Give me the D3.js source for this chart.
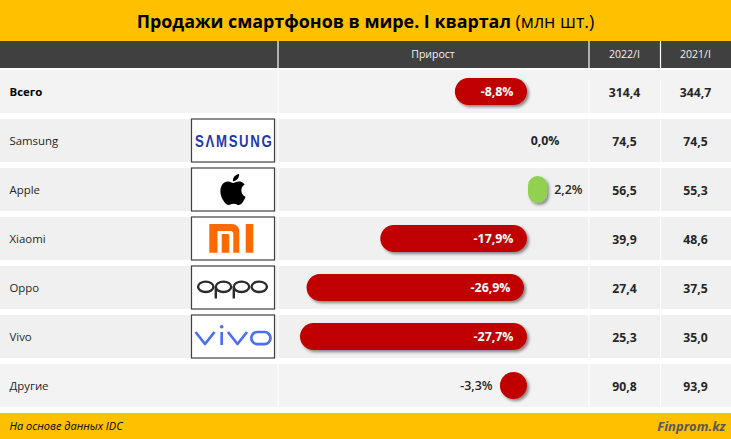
<!DOCTYPE html>
<html>
<head>
<meta charset="utf-8">
<script src="https://cdnjs.cloudflare.com/ajax/libs/d3/7.8.5/d3.min.js"></script>
<style>
  html, body { margin: 0; padding: 0; background: #fff; }
  svg { display: block; }
  text { font-family: "Open Sans", "Noto Sans", sans-serif; }
</style>
</head>
<body>
<div id="chart"></div>
<script>
// Data
var categories = ["Всего", "Samsung", "Apple", "Xiaomi", "Oppo", "Vivo", "Другие"];
var growth = [-8.8, 0.0, 2.2, -17.9, -26.9, -27.7, -3.3];
var sales2022 = [314.4, 74.5, 56.5, 39.9, 27.4, 25.3, 90.8];
var sales2021 = [344.7, 74.5, 55.3, 48.6, 37.5, 35.0, 93.9];
var columnLabels = ["Прирост", "2022/I", "2021/I"];

var svgWidth = 731;
var svgHeight = 439;
var yellow = "#FFC000";
var dark = "#404040";
var textColor = "#262626";

var svg = d3.select("#chart").append("svg")
  .attr("width", svgWidth)
  .attr("height", svgHeight);

var shadow = svg.append("defs").append("filter")
  .attr("id", "barShadow")
  .attr("x", "-20%").attr("y", "-30%")
  .attr("width", "150%").attr("height", "170%");
shadow.append("feDropShadow")
  .attr("dx", 2).attr("dy", 2)
  .attr("stdDeviation", 1.6)
  .attr("flood-color", "#000")
  .attr("flood-opacity", 0.45);

// comma decimals and a plain hyphen, like the original
function comma(v) {
  return v.toFixed(1).replace(".", ",");
}

var y = d3.scaleBand()
  .domain(categories)
  .range([70, 407])
  .paddingInner(6 / 49)
  .paddingOuter(0);

var x = d3.scaleLinear()
  .domain([-27.7, 0])
  .range([300, 527]);

// title band
svg.append("rect").attr("width", svgWidth).attr("height", 41).attr("fill", yellow);
var title = svg.append("text")
  .attr("x", 365.5).attr("y", 28)
  .attr("text-anchor", "middle")
  .style("font-size", "17.85px")
  .style("fill", "#000");
title.append("tspan").style("font-weight", 700).text("Продажи смартфонов в мире. I квартал ");
title.append("tspan").text("(млн шт.)");

// header
svg.append("rect").attr("y", 41).attr("width", svgWidth).attr("height", 27).attr("fill", dark);
var columnX = [433, 624.5, 695.5];
svg.selectAll(".column-label")
  .data(columnLabels)
  .enter().append("text")
  .attr("class", "column-label")
  .attr("x", (d, i) => columnX[i])
  .attr("y", 58)
  .attr("text-anchor", "middle")
  .style("font-size", "10.5px")
  .style("fill", "#F2F2F2")
  .text(d => d);

// rows
var rows = svg.selectAll(".row")
  .data(categories)
  .enter().append("g")
  .attr("class", "row")
  .attr("transform", d => `translate(0, ${y(d)})`);

rows.append("rect")
  .attr("width", svgWidth)
  .attr("height", y.bandwidth())
  .attr("fill", (d, i) => i === 0 || i === 6 ? "#F3F3F3" : "#F0F0F0");

rows.append("text")
  .attr("x", 9.5)
  .attr("y", y.bandwidth() / 2 + 4)
  .style("font-size", "11.4px")
  .style("font-weight", (d, i) => i === 0 ? 700 : 400)
  .style("fill", (d, i) => i === 0 ? "#000" : textColor)
  .text(d => d);

// column dividers
[278, 589, 660.5].forEach(function (sepX) {
  svg.append("line")
    .attr("x1", sepX).attr("x2", sepX)
    .attr("y1", 41).attr("y2", 413)
    .attr("stroke", "#fff")
    .attr("stroke-width", 1.2);
});
// the total row has no divider on its top part
svg.append("rect").attr("x", 585).attr("y", 70).attr("width", 80).attr("height", 10).attr("fill", "#F3F3F3");

// growth bars
var barHeight = 27;
var oppoInset = 3; // Oppo bar stops a little short in the original
var rowsData = categories.map((name, i) => ({ name: name, value: growth[i] }));

function barLeft(d) {
  return d.value < 0 ? x(d.value) : x(0) + 1;
}
function barRight(d) {
  if (d.value > 0) return x(d.value) + 2;
  return d.name === "Oppo" ? x(0) - oppoInset : x(0);
}

svg.selectAll(".bar")
  .data(rowsData.filter(d => d.value !== 0))
  .enter().append("rect")
  .attr("class", "bar")
  .attr("x", barLeft)
  .attr("y", d => y(d.name) + (y.bandwidth() - barHeight) / 2)
  .attr("width", d => barRight(d) - barLeft(d))
  .attr("height", barHeight)
  .attr("rx", d => Math.min(barRight(d) - barLeft(d), barHeight) / 2)
  .attr("fill", d => d.value < 0 ? "#C00000" : "#92D050")
  .style("filter", "url(#barShadow)");

// growth labels: white inside long bars, dark next to short ones
svg.selectAll(".growth-label")
  .data(rowsData)
  .enter().append("text")
  .attr("class", "growth-label")
  .attr("y", d => y(d.name) + y.bandwidth() / 2 + 4.5)
  .attr("x", function (d) {
    if (d.value === 0) return 559.5;
    if (d.value > 0) return 582.5;
    if (d.value > -5) return x(d.value) - 7.5;
    return d.name === "Oppo" ? 510.5 : 513.5;
  })
  .attr("text-anchor", "end")
  .style("font-size", "12.4px")
  .style("font-weight", d => d.value < -5 || d.value === 0 ? 700 : 600)
  .style("fill", d => d.value < -5 ? "#fff" : textColor)
  .text(d => comma(d.value) + "%");

// value columns
[sales2022, sales2021].forEach(function (values, k) {
  svg.selectAll(".value-" + k)
    .data(values)
    .enter().append("text")
    .attr("class", "value-" + k)
    .attr("x", columnX[k + 1])
    .attr("y", (d, i) => y(categories[i]) + y.bandwidth() / 2 + 5)
    .attr("text-anchor", "middle")
    .style("font-size", "12.2px")
    .style("font-weight", 700)
    .style("fill", textColor)
    .text(d => comma(d));
});

// logos
var logoX = 191.5, logoW = 83;
function logoBox(name) {
  var g = svg.append("g").attr("transform", `translate(${logoX}, ${y(name)})`);
  g.append("rect")
    .attr("width", logoW).attr("height", y.bandwidth())
    .attr("fill", "#fff")
    .attr("stroke", dark)
    .attr("stroke-width", 1.2);
  return g;
}

// squeezed glyphs with open spacing, the wordmark is not a stock font
logoBox("Samsung").append("text")
  .attr("transform", "translate(3.5, 28) scale(0.8, 1)")
  .attr("textLength", 96)
  .attr("lengthAdjust", "spacing")
  .style("font-family", "'Liberation Sans', sans-serif")
  .style("font-size", "16.5px")
  .style("font-weight", 700)
  .style("fill", "#1F3AA8")
  .text("SΛMSUNG");

logoBox("Apple").append("path")
  .attr("transform", "translate(41.5, 21.5) scale(1.55) translate(-12, -12)")
  .attr("fill", "#000")
  .attr("d", "M18.71 19.5c-.83 1.24-1.71 2.45-3.05 2.47-1.34.03-1.77-.79-3.29-.79-1.53 0-2 .77-3.27.82-1.31.05-2.3-1.32-3.14-2.53C4.25 17 2.94 12.45 4.7 9.39c.87-1.52 2.43-2.48 4.12-2.51 1.28-.02 2.5.87 3.29.87.78 0 2.26-1.07 3.81-.91.65.03 2.47.26 3.64 1.98-.09.06-2.17 1.28-2.15 3.81.03 3.02 2.65 4.03 2.68 4.04-.03.07-.42 1.44-1.38 2.83M13 3.5c.73-.83 1.94-1.46 2.94-1.5.13 1.17-.34 2.35-1.04 3.19-.69.85-1.83 1.51-2.95 1.42-.15-1.15.41-2.35 1.05-3.11z");

var mi = logoBox("Xiaomi");
mi.append("path")
  .attr("fill", "#FF6900")
  .attr("d", "M17.8 7H39.8Q47.8 7 47.8 15V35.7H41.8V17Q41.8 14 38.8 14H26V35.7H17.8Z M30.2 17H36.3Q37.8 17 37.8 18.5V35.7H30.2Z M54.2 7H61.8V35.7H54.2Z");

var oppo = logoBox("Oppo");
var oppoRings = [14.25, 32, 50, 67.75];
oppo.selectAll("ellipse")
  .data(oppoRings)
  .enter().append("ellipse")
  .attr("cx", d => d)
  .attr("cy", 20.8)
  .attr("rx", 7.7)
  .attr("ry", 5.2)
  .attr("fill", "none")
  .attr("stroke", "#2b2b2b")
  .attr("stroke-width", 2.4);
oppo.append("path")
  .attr("d", "M24.3 21V32.5M42.3 21V32.5")
  .attr("stroke", "#2b2b2b")
  .attr("stroke-width", 2.4);

var vivo = logoBox("Vivo");
vivo.append("path")
  .attr("d", "M4 17L13.5 29L23 17M30.2 17V30M36.5 17L46 29L55.5 17")
  .attr("fill", "none")
  .attr("stroke", "#4B6EF5")
  .attr("stroke-width", 2.7)
  .attr("stroke-linejoin", "round");
vivo.append("rect")
  .attr("x", 59.8).attr("y", 17).attr("width", 19.2).attr("height", 12.2)
  .attr("rx", 6.1)
  .attr("fill", "none")
  .attr("stroke", "#4B6EF5")
  .attr("stroke-width", 2.7);
vivo.append("circle")
  .attr("cx", 30.2).attr("cy", 11.7).attr("r", 1.8)
  .attr("fill", "#4B6EF5");

// footer
svg.append("rect").attr("y", 413).attr("width", svgWidth).attr("height", 26).attr("fill", yellow);
svg.append("text")
  .attr("x", 9.5).attr("y", 430)
  .style("font-size", "11px")
  .style("font-style", "italic")
  .style("fill", "#000")
  .text("На основе данных IDC");
svg.append("text")
  .attr("x", 725.5).attr("y", 431)
  .attr("text-anchor", "end")
  .style("font-size", "13px")
  .style("font-style", "italic")
  .style("font-weight", 700)
  .style("fill", "#595959")
  .text("Finprom.kz");
</script>
</body>
</html>
